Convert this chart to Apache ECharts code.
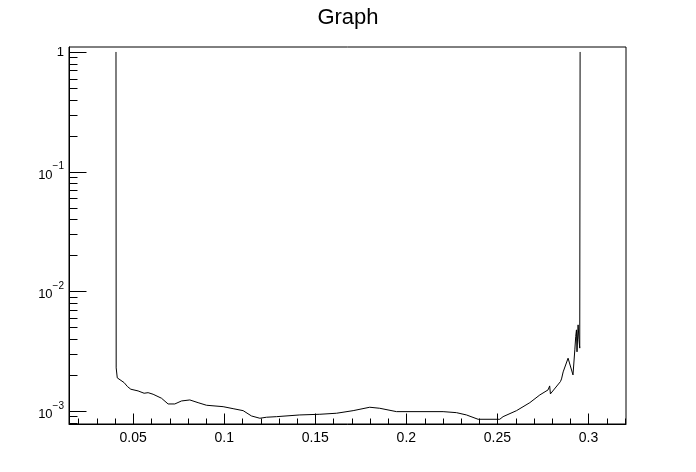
<!DOCTYPE html>
<html>
<head>
<meta charset="utf-8">
<script src="https://cdn.jsdelivr.net/npm/echarts@6/dist/echarts.min.js"></script>
<style>
html,body{margin:0;padding:0;background:#fff;}
#c{width:696px;height:472px;}
</style>
</head>
<body>
<div id="c"></div>
<script>
// ---- data ----
var xValues = [0.0406, 0.0407, 0.0413, 0.04215, 0.04506, 0.04693, 0.04874, 0.05274, 0.05604, 0.05823, 0.06098,
  0.06559, 0.06921, 0.07289, 0.07657, 0.08113, 0.08568, 0.09029, 0.09941, 0.1049, 0.1104, 0.115, 0.1196,
  0.1232, 0.1287, 0.1415, 0.1525, 0.1617, 0.1708, 0.1799, 0.1854, 0.1946, 0.2202, 0.2275, 0.233, 0.2394,
  0.2513, 0.2531, 0.2605, 0.2678, 0.2733, 0.2778, 0.2787, 0.2791, 0.2846, 0.2852, 0.2861, 0.2888, 0.2915,
  0.2925, 0.293, 0.2934, 0.2937, 0.2943, 0.2948, 0.2952, 0.2954];
var yValues = [1, 0.00229, 0.00189, 0.00182, 0.001725, 0.001597, 0.001519, 0.00147, 0.001406, 0.001422, 0.001379,
  0.001277, 0.001144, 0.001144, 0.001212, 0.001236, 0.001173, 0.001116, 0.001086, 0.001045, 0.001006, 0.000908, 0.000869,
  0.000886, 0.000896, 0.000926, 0.000938, 0.000957, 0.001006, 0.001074, 0.001053, 0.000987, 0.000987, 0.000968, 0.000926, 0.000852,
  0.000852, 0.000896, 0.001006, 0.001173, 0.001361, 0.001499, 0.001619, 0.001388, 0.001759, 0.001852, 0.00212, 0.00276, 0.002,
  0.00324, 0.00419, 0.00476, 0.00312, 0.00524, 0.00393, 0.00335, 1];

var xMin = 0.0148, xMax = 0.3206;
var yMin = 0.000778, yMax = 1.1;

var xMajorTicks = [0.05, 0.1, 0.15, 0.2, 0.25, 0.3];
var xMinorTicks = [0.02, 0.03, 0.04, 0.06, 0.07, 0.08, 0.09, 0.11, 0.12, 0.13, 0.14, 0.16, 0.17, 0.18, 0.19,
  0.21, 0.22, 0.23, 0.24, 0.26, 0.27, 0.28, 0.29, 0.31, 0.32];
var yMajorTicks = [0.001, 0.01, 0.1, 1];
var yMinorTicks = [0.0008, 0.0009, 0.002, 0.003, 0.004, 0.005, 0.006, 0.007, 0.008, 0.009,
  0.02, 0.03, 0.04, 0.05, 0.06, 0.07, 0.08, 0.09, 0.2, 0.3, 0.4, 0.5, 0.6, 0.7, 0.8, 0.9];

// ---- chart ----
var points = xValues.map(function (x, i) { return [x, yValues[i]]; });
var FONT = '"Liberation Sans", Arial, Helvetica, sans-serif';

function tickSeries(data, horizontal, len) {
  return {
    type: 'custom',
    coordinateSystem: 'cartesian2d',
    silent: true,
    clip: false,
    data: data,
    encode: { x: 0, y: 1 },
    renderItem: function (params, api) {
      var p = api.coord([api.value(0), api.value(1)]);
      var x = Math.round(p[0]) + 0.5, y = Math.round(p[1]) + 0.5;
      var shape = horizontal ? { x1: x, y1: y, x2: x + len, y2: y } : { x1: x, y1: y, x2: x, y2: y - len };
      return { type: 'line', shape: shape, style: { stroke: '#000', lineWidth: 1 } };
    }
  };
}

var chart = echarts.init(document.getElementById('c'), null, { renderer: 'canvas' });
chart.setOption({
  animation: false,
  backgroundColor: '#fff',
  title: {
    text: 'Graph',
    left: 'center',
    top: 2,
    textStyle: { fontFamily: FONT, fontSize: 22, fontWeight: 'normal', color: '#000' }
  },
  grid: {
    left: 69, right: 70, top: 47, bottom: 48,
    show: true, borderColor: '#000', borderWidth: 1, backgroundColor: 'transparent'
  },
  xAxis: {
    type: 'value',
    min: xMin, max: xMax,
    axisLine: { show: true, lineStyle: { color: '#000', width: 1 } },
    axisTick: { show: false },
    splitLine: { show: false },
    axisLabel: {
      margin: 7,
      fontFamily: FONT, fontSize: 14, color: '#000',
      showMinLabel: false, showMaxLabel: false,
      formatter: function (v) {
        var r = Math.round(v / 0.05);
        if (Math.abs(v - r * 0.05) > 1e-6) return '';
        return String(parseFloat((r * 0.05).toFixed(4)));
      }
    }
  },
  yAxis: {
    type: 'log',
    logBase: 10,
    min: yMin, max: yMax,
    axisLine: { show: true, lineStyle: { color: '#000', width: 1 } },
    axisTick: { show: false },
    splitLine: { show: false },
    minorTick: { show: false },
    axisLabel: {
      margin: 5,
      fontFamily: FONT, fontSize: 13, color: '#000',
      formatter: function (v) {
        var l = Math.log10(v);
        var e = Math.round(l);
        if (Math.abs(l - e) > 1e-6) return '';
        if (e === 0) return '1';
        return '{b|10}{s|' + (e < 0 ? '\u2212' + (-e) : e) + '}';
      },
      rich: {
        b: { fontFamily: FONT, fontSize: 13, color: '#000', verticalAlign: 'bottom', lineHeight: 15 },
        s: { fontFamily: FONT, fontSize: 10, color: '#000', verticalAlign: 'top', lineHeight: 20 }
      }
    }
  },
  series: [
    {
      type: 'line',
      data: points,
      showSymbol: false,
      symbol: 'none',
      lineStyle: { color: '#000', width: 1 },
      silent: true
    },
    tickSeries(xMajorTicks.map(function (v) { return [v, yMin]; }), false, 11),
    tickSeries(xMinorTicks.filter(function (v) { return v <= xMax; }).map(function (v) { return [v, yMin]; }), false, 6),
    tickSeries(yMajorTicks.map(function (v) { return [xMin, v]; }), true, 17),
    tickSeries(yMinorTicks.map(function (v) { return [xMin, v]; }), true, 8)
  ]
});
</script>
</body>
</html>
